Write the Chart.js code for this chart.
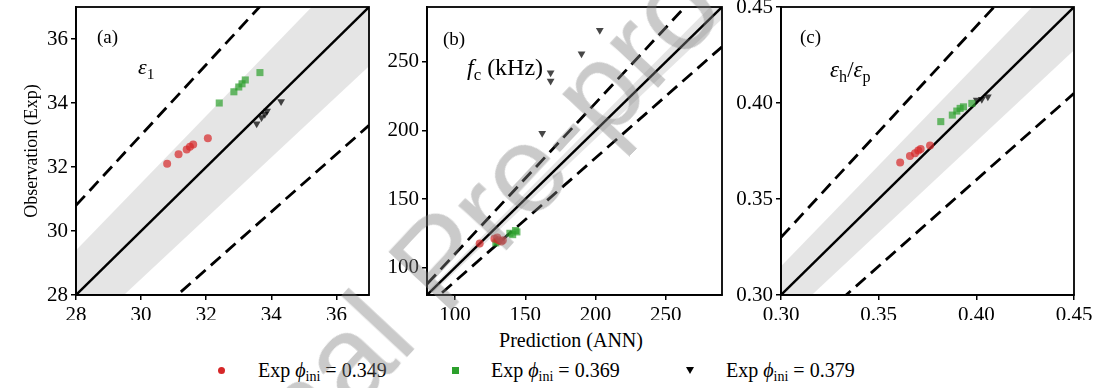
<!DOCTYPE html>
<html>
<head>
<meta charset="utf-8">
<script src="https://cdn.jsdelivr.net/npm/chart.js@4.4.0/dist/chart.umd.min.js"></script>
<style>
html, body { margin: 0; padding: 0; overflow: hidden; }
body { width: 1098px; height: 388px; position: relative; background: #fff; font-family: "Liberation Serif", serif; color: #000; }
canvas { position: absolute; top: -10px; }
#cA { left: 0; }
#cB { left: 380px; }
#cC { left: 730px; }
.txt { position: absolute; line-height: 1; white-space: nowrap; font-family: "Liberation Serif", serif; }
.math { font-style: italic; }
.sub { font-size: 70%; position: relative; top: 0.3em; font-style: normal; }
.leg { position: absolute; top: 360px; font-size: 20px; line-height: 20px; white-space: nowrap; font-family: "Liberation Serif", serif; }
.mk { position: absolute; }
#wm { position: absolute; left: 438px; top: 260px; transform: translate(-50%, -50%) rotate(-47deg);
      font-family: "Liberation Sans", sans-serif; font-size: 125px; line-height: 1; color: rgba(128,128,128,0.42);
      white-space: nowrap; pointer-events: none; }
</style>
</head>
<body>
<canvas id="cA" width="380" height="330"></canvas>
<canvas id="cB" width="350" height="330"></canvas>
<canvas id="cC" width="368" height="330"></canvas>

<div class="txt" style="left:97px;top:27px;font-size:19px;">(a)</div>
<div class="txt" style="left:138px;top:56px;font-size:22px;"><span class="math">ε</span><span class="sub">1</span></div>
<div class="txt" style="left:443px;top:29px;font-size:19px;">(b)</div>
<div class="txt" style="left:467px;top:55px;font-size:24px;"><span class="math">f</span><span class="sub">c</span> (kHz)</div>
<div class="txt" style="left:800px;top:27px;font-size:19px;">(c)</div>
<div class="txt" style="left:830px;top:58px;font-size:23px;"><span class="math">ε</span><span class="sub">h</span>/<span class="math">ε</span><span class="sub">p</span></div>

<div class="txt" style="left:571px;top:330px;font-size:20px;transform:translateX(-50%);">Prediction (ANN)</div>

<div class="mk" style="left:218px;top:367px;width:7px;height:7px;border-radius:50%;background:#d62728;"></div>
<div class="leg" style="left:258px;">Exp <span class="math">ϕ</span><span class="sub">ini</span> = 0.349</div>
<div class="mk" style="left:452px;top:367px;width:7px;height:7px;background:#2ca02c;"></div>
<div class="leg" style="left:491px;">Exp <span class="math">ϕ</span><span class="sub">ini</span> = 0.369</div>
<div class="mk" style="left:686px;top:367px;width:0;height:0;border-left:4px solid transparent;border-right:4px solid transparent;border-top:7px solid #000;"></div>
<div class="leg" style="left:726px;">Exp <span class="math">ϕ</span><span class="sub">ini</span> = 0.379</div>

<div id="wm">Journal Pre-proof</div>

<script>
// axis ranges and ticks
var rangeA = [28, 37];
var rangeB = [80, 290];
var rangeC = [0.30, 0.45];
var ticksA = [28, 30, 32, 34, 36];
var ticksB = [100, 150, 200, 250];
var ticksC = [0.30, 0.35, 0.40, 0.45];

// (a) epsilon_1 : [prediction, observation]
var redA   = [[30.8, 32.1], [31.15, 32.4], [31.4, 32.55], [31.5, 32.63], [31.6, 32.7], [32.05, 32.9]];
var greenA = [[32.4, 34.0], [32.85, 34.35], [33.0, 34.5], [33.1, 34.6], [33.2, 34.72], [33.65, 34.95]];
var blackA = [[33.55, 33.35], [33.7, 33.55], [33.8, 33.65], [33.87, 33.75], [34.3, 34.05]];

// (b) f_c (kHz)
var redB   = [[117.5, 117.5], [128, 121], [130, 122], [131, 120], [133, 119], [134, 120]];
var greenB = [[129, 118], [130, 119], [139, 125], [141, 124], [143, 127], [144, 126]];
var blackB = [[162, 198], [168, 242], [168, 236], [190, 256], [203, 273]];

// (c) epsilon_h / epsilon_p
var redC   = [[0.361, 0.369], [0.366, 0.3724], [0.3686, 0.3738], [0.3703, 0.3752], [0.3715, 0.376], [0.3763, 0.3778]];
var greenC = [[0.3818, 0.3903], [0.3877, 0.3937], [0.39, 0.3958], [0.3917, 0.3972], [0.3934, 0.398], [0.3977, 0.3998]];
var blackC = [[0.4002, 0.4016], [0.4028, 0.402], [0.4059, 0.4033]];

var redCol = 'rgba(214, 39, 40, 0.7)';
var greenCol = 'rgba(44, 160, 44, 0.7)';
var blackCol = 'rgba(0, 0, 0, 0.72)';
var tickFont = { family: "'Liberation Serif', serif", size: 21 };

function pts(arr) {
    return arr.map(function(p) { return { x: p[0], y: p[1] }; });
}

function pointSet(arr, style, color, r, rot) {
    return {
        type: 'scatter',
        data: pts(arr),
        pointStyle: style,
        pointRotation: rot || 0,
        pointRadius: r,
        pointBackgroundColor: color,
        pointBorderWidth: 0,
        pointHoverRadius: r,
        order: 0
    };
}

function guide(range, k, opts) {
    var lo = range[0], hi = range[1];
    var ds = {
        type: 'line',
        data: [{ x: lo, y: lo * k }, { x: hi, y: hi * k }],
        pointRadius: 0,
        borderColor: '#000',
        borderWidth: 2.4,
        tension: 0,
        fill: false,
        order: 2
    };
    for (var key in opts) ds[key] = opts[key];
    return ds;
}

var frame = {
    id: 'frame',
    afterDraw: function(chart) {
        var a = chart.chartArea, ctx = chart.ctx;
        ctx.save();
        ctx.strokeStyle = '#000';
        ctx.lineWidth = 1.8;
        ctx.strokeRect(a.left, a.top, a.right - a.left, a.bottom - a.top);
        ctx.restore();
    }
};

function makeAxis(range, tks, decimals, fitFn, title) {
    var ax = {
        type: 'linear',
        min: range[0],
        max: range[1],
        afterBuildTicks: function(s) { s.ticks = tks.map(function(v) { return { value: v }; }); },
        afterFit: fitFn,
        grid: { display: true, drawOnChartArea: false, drawTicks: true, tickLength: 5, color: '#000', lineWidth: 1.5 },
        border: { display: true, color: '#000', width: 1.8 },
        ticks: {
            color: '#000',
            font: tickFont,
            padding: 3,
            maxRotation: 0,
            callback: function(v) { return decimals ? Number(v).toFixed(decimals) : String(v); }
        }
    };
    if (title) {
        ax.title = { display: true, text: title, color: '#000', font: { family: "'Liberation Serif', serif", size: 18 }, padding: { top: 21, bottom: 0 } };
    }
    return ax;
}

function makePanel(id, range, tks, decimals, red, green, black, band, yWidth, rightPad, yTitle) {
    var ctx = document.getElementById(id).getContext('2d');
    return new Chart(ctx, {
        type: 'scatter',
        data: {
            datasets: [
                pointSet(red, 'circle', redCol, 4),
                pointSet(green, 'rect', greenCol, 5),
                pointSet(black, 'triangle', blackCol, 4.5, 180),
                guide(range, 1, {}),
                guide(range, 1.1, { borderDash: [13, 7], borderWidth: 2.8, order: 3 }),
                guide(range, 0.9, { borderDash: [13, 7], borderWidth: 2.8, order: 3 }),
                guide(range, 1 + band, { borderWidth: 0, borderColor: 'rgba(0,0,0,0)', fill: '+1', backgroundColor: 'rgba(0,0,0,0.1)', order: 5 }),
                guide(range, 1 - band, { borderWidth: 0, borderColor: 'rgba(0,0,0,0)', order: 5 })
            ]
        },
        options: {
            responsive: false,
            animation: false,
            devicePixelRatio: 1,
            layout: { padding: { top: 17, right: rightPad, left: 0, bottom: 0 } },
            plugins: { legend: { display: false }, tooltip: { enabled: false } },
            scales: {
                x: makeAxis(range, tks, decimals, function(s) { s.height = 25; }),
                y: makeAxis(range, tks, decimals, function(s) { s.width = yWidth; }, yTitle)
            }
        },
        plugins: [frame]
    });
}

makePanel('cA', rangeA, ticksA, 0, redA, greenA, blackA, 0.05, 76, 11, 'Observation (Exp)');
makePanel('cB', rangeB, ticksB, 0, redB, greenB, blackB, 0.03, 47, 8, null);
makePanel('cC', rangeC, ticksC, 2, redC, greenC, blackC, 0.05, 51, 24, null);
</script>
</body>
</html>
